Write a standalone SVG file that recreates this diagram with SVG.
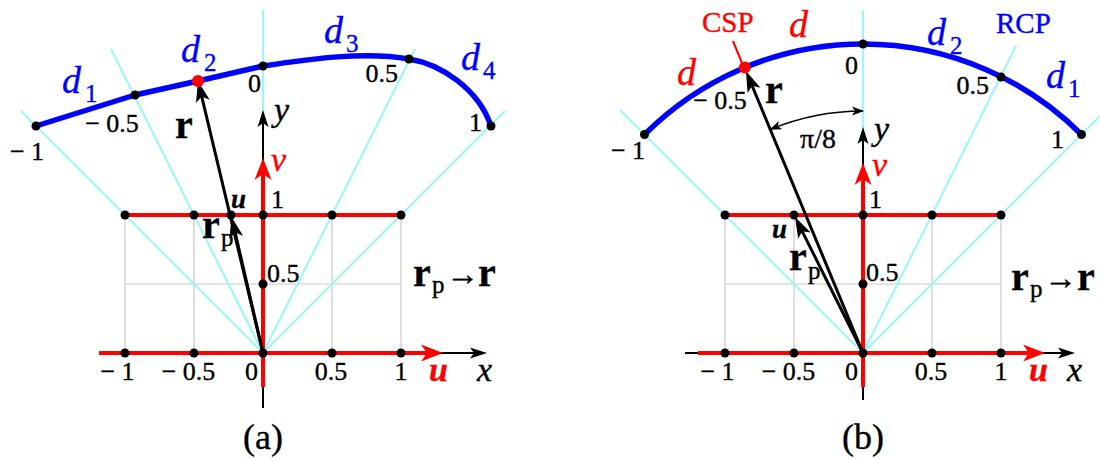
<svg xmlns="http://www.w3.org/2000/svg" width="1100" height="459" viewBox="0 0 1100 459" font-family="'Liberation Serif', 'DejaVu Serif', serif">
<style>
text{font-family:'Liberation Serif','DejaVu Serif',serif;fill:#000;stroke:#000;stroke-width:0.35}
.n{font-size:26px}
.red{fill:#ff0000;stroke:#ff0000}
.blue{fill:#0000ff;stroke:#0000ff}
.ax{font-size:34px;font-style:italic}
.dl{font-size:38px;font-style:italic}
.sub{font-size:25px}
.vec{font-size:40px;font-weight:bold}
.arw{font-size:33px;font-weight:bold}
.cap{font-size:36px}
.mid{text-anchor:middle}
.end{text-anchor:end}
.grid{stroke:#c8c8c8;stroke-width:1.2;fill:none}
.cyan{stroke:#a0f6f6;stroke-width:2.2;fill:none}
.redl{stroke:#ff0000;stroke-width:4;fill:none}
.axk{stroke:#000;stroke-width:2;fill:none}
.vk{stroke:#000;stroke-width:3;fill:none}
.curve{stroke:#0000ff;stroke-width:5.5;fill:none;stroke-linejoin:round}
.dot{fill:#000}
.rdot{fill:#ff0000}
</style>
<defs>
<marker id="arR" markerUnits="userSpaceOnUse" orient="auto" refX="0" refY="0" markerWidth="40" markerHeight="40" overflow="visible"><path d="M12,0 L-10,-8.5 L-4,0 L-10,8.5 Z" fill="#ff0000"/></marker>
<marker id="arK" markerUnits="userSpaceOnUse" orient="auto" refX="0" refY="0" markerWidth="40" markerHeight="40" overflow="visible"><path d="M8,0 L-9,-5.5 L-5,0 L-9,5.5 Z" fill="#000"/></marker>
<marker id="arV" markerUnits="userSpaceOnUse" orient="auto" refX="0" refY="0" markerWidth="40" markerHeight="40" overflow="visible"><path d="M10,0 L-11,-7 L-6,0 L-11,7 Z" fill="#000"/></marker>
<marker id="arS" markerUnits="userSpaceOnUse" orient="auto-start-reverse" refX="0" refY="0" markerWidth="40" markerHeight="40" overflow="visible"><path d="M1,0 L-11,-4.5 L-8,0 L-11,4.5 Z" fill="#000"/></marker>
</defs>

<g id="panel-a">
  <g id="a-grid">
    <path class="grid" d="M125,284 H401 M125,215 V353 M194,215 V353 M332,215 V353 M401,215 V353"/>
  </g>
  <g id="a-rays">
    <path class="cyan" d="M263,353 L21,111 M263,353 L111,49 M263,353 L263,10 M263,353 L415,49 M263,353 L505,111"/>
  </g>
  <g id="a-axes">
    <path class="axk" d="M99,353 H479" marker-end="url(#arK)"/>
    <path class="axk" d="M263,408 V118" marker-end="url(#arK)"/>
    <path class="redl" d="M99,353 H431" marker-end="url(#arR)"/>
    <path class="redl" d="M263,387 V170" marker-end="url(#arR)"/>
    <path class="redl" d="M125,215 H401"/>
  </g>
  <g id="a-curve">
    <path class="curve" d="M36,126 L135,95 L198,81 L263,66 C310,59 365,51 409,59 C440,64 478,88 491,126"/>
  </g>
  <g id="a-vectors">
    <path class="vk" d="M263,353 L200.3,90.7" marker-end="url(#arV)"/>
    <path class="vk" d="M263,353 L233.8,226.7" marker-end="url(#arV)"/>
  </g>
  <g id="a-dots">
    <circle class="dot" cx="125" cy="353" r="4.5"/><circle class="dot" cx="194" cy="353" r="4.5"/><circle class="dot" cx="263" cy="353" r="4.5"/><circle class="dot" cx="332" cy="353" r="4.5"/><circle class="dot" cx="401" cy="353" r="4.5"/>
    <circle class="dot" cx="125" cy="215" r="4.5"/><circle class="dot" cx="194" cy="215" r="4.5"/><circle class="dot" cx="231" cy="215" r="4.5"/><circle class="dot" cx="263" cy="215" r="4.5"/><circle class="dot" cx="332" cy="215" r="4.5"/><circle class="dot" cx="401" cy="215" r="4.5"/>
    <circle class="dot" cx="263" cy="284" r="4.5"/>
    <circle class="dot" cx="36" cy="126" r="4.5"/><circle class="dot" cx="135" cy="95" r="4.5"/><circle class="dot" cx="263" cy="66" r="4.5"/><circle class="dot" cx="409" cy="59" r="4.5"/><circle class="dot" cx="491" cy="126" r="4.5"/>
    <circle class="rdot" cx="198" cy="81" r="6"/>
  </g>
  <g id="a-labels">
    <text class="n mid" x="117.5" y="380">− 1</text>
    <text class="n mid" x="188.5" y="380">− 0.5</text>
    <text class="n mid" x="251.5" y="380">0</text>
    <text class="n mid" x="331" y="380">0.5</text>
    <text class="n mid" x="401" y="380">1</text>
    <text class="n" x="271" y="208">1</text>
    <text class="n" x="267" y="282">0.5</text>
    <text class="n mid" x="27" y="160">− 1</text>
    <text class="n mid" x="112" y="132">− 0.5</text>
    <text class="n end" x="261" y="92">0</text>
    <text class="n end" x="398" y="82">0.5</text>
    <text class="n end" x="482" y="131">1</text>
    <text class="ax red" font-weight="bold" x="429" y="381">u</text>
    <text class="ax" x="477" y="381">x</text>
    <text class="ax" x="274" y="121">y</text>
    <text class="ax red" x="271" y="171">v</text>
    <text font-style="italic" font-weight="bold" font-size="27" x="231" y="208">u</text>
    <text class="dl blue" x="62" y="93">d</text><text class="sub blue" x="85" y="102">1</text>
    <text class="dl blue" x="181" y="62">d</text><text class="sub blue" x="204" y="71">2</text>
    <text class="dl blue" x="324" y="43">d</text><text class="sub blue" x="346" y="52">3</text>
    <text class="dl blue" x="461" y="70">d</text><text class="sub blue" x="483" y="79">4</text>
    <text class="vec" x="175" y="138">r</text>
    <text class="vec" x="202" y="238">r</text><text class="sub" x="221" y="246">p</text>
    <text class="vec" x="413" y="286">r</text><text class="sub" x="432" y="293">p</text><text class="arw" x="446" y="285">→</text><text class="vec" x="478" y="286">r</text>
    <text class="cap mid" x="263" y="449">(a)</text>
  </g>
</g>

<g id="panel-b">
  <g id="b-grid">
    <path class="grid" d="M725,284 H1001 M725,215 V353 M794,215 V353 M932,215 V353 M1001,215 V353"/>
  </g>
  <g id="b-rays">
    <path class="cyan" d="M863,353 L620,110 M863,353 L863,10 M863,353 L1016,46 M863,353 L1106,110"/>
  </g>
  <g id="b-axes">
    <path class="axk" d="M685,353 H1067" marker-end="url(#arK)"/>
    <path class="axk" d="M863,400 V135" marker-end="url(#arK)"/>
    <path class="redl" d="M698,353 H1033" marker-end="url(#arR)"/>
    <path class="redl" d="M863,387 V175" marker-end="url(#arR)"/>
    <path class="redl" d="M725,215 H1001"/>
  </g>
  <g id="b-curve">
    <path class="curve" d="M644.5,134.5 A309,309 0 0 1 1081.5,134.5"/>
    <path d="M733,41 L744,68" stroke="#ff0000" stroke-width="2"/>
  </g>
  <g id="b-vectors">
    <path class="vk" d="M863,353 L749.8,80.2" marker-end="url(#arV)"/>
    <path class="vk" d="M863,353 L799.5,225.9" marker-end="url(#arV)"/>
    <path d="M770.4,129.4 A242,242 0 0 1 863,111" stroke="#000" stroke-width="1.3" fill="none" marker-start="url(#arS)" marker-end="url(#arS)"/>
  </g>
  <g id="b-dots">
    <circle class="dot" cx="725" cy="353" r="4.5"/><circle class="dot" cx="794" cy="353" r="4.5"/><circle class="dot" cx="863" cy="353" r="4.5"/><circle class="dot" cx="932" cy="353" r="4.5"/><circle class="dot" cx="1001" cy="353" r="4.5"/>
    <circle class="dot" cx="725" cy="215" r="4.5"/><circle class="dot" cx="794" cy="215" r="4.5"/><circle class="dot" cx="863" cy="215" r="4.5"/><circle class="dot" cx="932" cy="215" r="4.5"/><circle class="dot" cx="1001" cy="215" r="4.5"/>
    <circle class="dot" cx="863" cy="284" r="4.5"/>
    <circle class="dot" cx="644.5" cy="134.5" r="4.5"/><circle class="dot" cx="863" cy="44" r="4.5"/><circle class="dot" cx="1001" cy="77" r="4.5"/><circle class="dot" cx="1081.5" cy="134.5" r="4.5"/>
    <circle class="rdot" cx="744.8" cy="67.5" r="6"/>
  </g>
  <g id="b-labels">
    <text class="n mid" x="717.5" y="380">− 1</text>
    <text class="n mid" x="788.5" y="380">− 0.5</text>
    <text class="n mid" x="851.5" y="380">0</text>
    <text class="n mid" x="931" y="380">0.5</text>
    <text class="n mid" x="1001" y="380">1</text>
    <text class="n" x="869" y="208">1</text>
    <text class="n" x="866" y="281">0.5</text>
    <text class="n mid" x="628" y="159">− 1</text>
    <text class="n mid" x="720" y="109">− 0.5</text>
    <text class="n end" x="858" y="74">0</text>
    <text class="n end" x="989" y="94">0.5</text>
    <text class="n end" x="1064" y="148">1</text>
    <text class="ax red" font-weight="bold" x="1029" y="381">u</text>
    <text class="ax" x="1067" y="381">x</text>
    <text class="ax" x="874" y="140">y</text>
    <text class="ax red" x="872" y="176">v</text>
    <text font-style="italic" font-weight="bold" font-size="27" x="772" y="238">u</text>
    <text class="red" font-size="29" x="702" y="32">CSP</text>
    <text class="blue" font-size="29" x="996" y="33">RCP</text>
    <text class="dl red" x="677" y="85">d</text>
    <text class="dl red" x="789" y="37">d</text>
    <text class="dl blue" x="927" y="45">d</text><text class="sub blue" x="950" y="54">2</text>
    <text class="dl blue" x="1046" y="88">d</text><text class="sub blue" x="1068" y="97">1</text>
    <text class="vec" x="765" y="103">r</text>
    <text font-size="28" x="800" y="148">π/8</text>
    <text class="vec" x="789" y="270">r</text><text class="sub" x="808" y="279">p</text>
    <text class="vec" x="1011" y="290">r</text><text class="sub" x="1030" y="297">p</text><text class="arw" x="1044" y="289">→</text><text class="vec" x="1077" y="290">r</text>
    <text class="cap mid" x="863" y="449">(b)</text>
  </g>
</g>
</svg>
